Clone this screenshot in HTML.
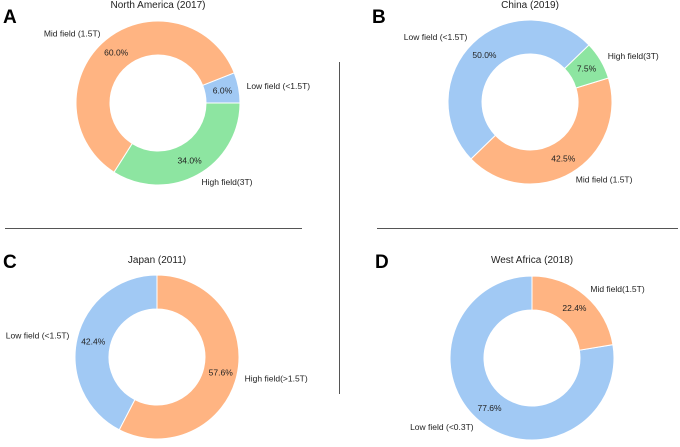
<!DOCTYPE html>
<html><head><meta charset="utf-8">
<style>
body{margin:0;background:#fff;width:680px;height:442px;overflow:hidden;font-family:"Liberation Sans",Arial,sans-serif;}
svg text{font-family:"Liberation Sans",Arial,sans-serif;}
</style></head>
<body>
<svg id="fig" width="680" height="442" viewBox="0 0 680 442" xmlns="http://www.w3.org/2000/svg">
  <line x1="339.5" y1="62" x2="339.5" y2="394" stroke="#555" stroke-width="1"/>
  <line x1="5" y1="228.5" x2="302" y2="228.5" stroke="#555" stroke-width="1"/>
  <line x1="377" y1="228.5" x2="678" y2="228.5" stroke="#555" stroke-width="1"/>
  <text x="3" y="23" font-size="19" font-weight="bold">A</text>
  <text x="372" y="23" font-size="19" font-weight="bold">B</text>
  <text x="3" y="268" font-size="19" font-weight="bold">C</text>
  <text x="375" y="268" font-size="19" font-weight="bold">D</text>
</svg>
<script>
// Panel A: North America (2017)
const aLabels = ["Low field (<1.5T)", "Mid field (1.5T)", "High field(3T)"];
const aValues = [6.0, 60.0, 34.0];
// Panel B: China (2019)
const bLabels = ["Low field (<1.5T)", "Mid field (1.5T)", "High field(3T)"];
const bValues = [50.0, 42.5, 7.5];
// Panel C: Japan (2011)
const cLabels = ["Low field (<1.5T)", "High field(>1.5T)"];
const cValues = [42.4, 57.6];
// Panel D: West Africa (2018)
const dLabels = ["Low field (<0.3T)", "Mid field(1.5T)"];
const dValues = [77.6, 22.4];

const BLUE="#a1c9f4", ORANGE="#ffb482", GREEN="#8de5a1";
const svg=document.getElementById('fig');
const NS="http://www.w3.org/2000/svg";

function donut(name,title,labels,values,colors,cx,cy,startDeg,titleY){
  const R=82, r=48;
  const g=document.createElementNS(NS,'g');
  
  
  svg.appendChild(g);
  const t=document.createElementNS(NS,'text');
  
  
  t.setAttribute('x',cx);t.setAttribute('y',titleY);t.setAttribute('font-size','10');
  t.setAttribute('text-anchor','middle');t.setAttribute('fill','#222');t.textContent=title;
  g.appendChild(t);
  const total=values.reduce((a,b)=>a+b,0);
  let a0=startDeg;
  values.forEach((v,i)=>{
    const a1=a0+v/total*360;
    const p=(deg,rad)=>[cx+rad*Math.cos(deg*Math.PI/180), cy-rad*Math.sin(deg*Math.PI/180)];
    const large=(a1-a0)>180?1:0;
    const [x0,y0]=p(a0,R),[x1,y1]=p(a1,R),[x2,y2]=p(a1,r),[x3,y3]=p(a0,r);
    const path=document.createElementNS(NS,'path');
    
    
    path.setAttribute('d',`M${x0},${y0} A${R},${R} 0 ${large} 0 ${x1},${y1} L${x2},${y2} A${r},${r} 0 ${large} 1 ${x3},${y3} Z`);
    path.setAttribute('fill',colors[i]);path.setAttribute('stroke','#fff');path.setAttribute('stroke-width','1');
    g.appendChild(path);
    const mid=(a0+a1)/2;
    const [px,py]=p(mid,R*0.8);
    const pt=document.createElementNS(NS,'text');
    
    
    pt.setAttribute('x',px);pt.setAttribute('y',py+3);pt.setAttribute('font-size','8.5');
    pt.setAttribute('text-anchor','middle');pt.setAttribute('fill','#222');
    pt.textContent=v.toFixed(1)+'%';
    g.appendChild(pt);
    const [lx,ly]=p(mid,R*1.1);
    const lt=document.createElementNS(NS,'text');
    
    
    lt.setAttribute('x',lx);lt.setAttribute('y',ly+3);lt.setAttribute('font-size','8.5');
    lt.setAttribute('text-anchor',Math.cos(mid*Math.PI/180)>=0?'start':'end');lt.setAttribute('fill','#222');
    lt.textContent=labels[i];
    g.appendChild(lt);
    a0=a1;
  });
}
donut('north-america','North America (2017)',aLabels,aValues,[BLUE,ORANGE,GREEN],158,103,0,8);
donut('china','China (2019)',bLabels,bValues,[BLUE,ORANGE,GREEN],530,102,44,8);
donut('japan','Japan (2011)',cLabels,cValues,[BLUE,ORANGE],157,357,90,263);
donut('west-africa','West Africa (2018)',dLabels,dValues,[BLUE,ORANGE],532,358,90,263);
</script>
</body></html>
